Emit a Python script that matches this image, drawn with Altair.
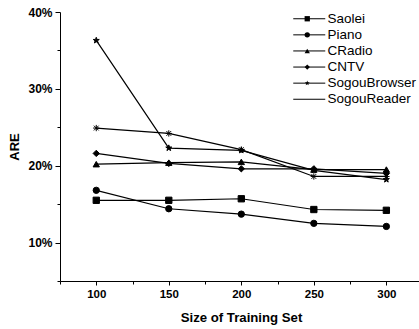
import altair as alt
import pandas as pd

sizes = [100, 150, 200, 250, 300]
series_names = ["Saolei", "Piano", "CRadio", "CNTV", "SogouBrowser", "SogouReader"]
saolei = [15.5, 15.5, 15.7, 14.3, 14.2]
piano = [16.8, 14.4, 13.7, 12.5, 12.1]
cradio = [20.2, 20.4, 20.5, 19.5, 19.5]
cntv = [21.6, 20.3, 19.6, 19.6, 19.0]
sogou_browser = [36.3, 22.3, 22.0, 19.4, 18.2]
sogou_reader = [24.9, 24.2, 22.1, 18.6, 18.6]

x_major = [100, 150, 200, 250, 300]
x_minor = [75, 125, 175, 225, 275]
y_major = [10, 20, 30, 40]
y_minor = [5, 15, 25, 35]

all_values = [saolei, piano, cradio, cntv, sogou_browser, sogou_reader]
rows = []
for name, vals in zip(series_names, all_values):
    for s, v in zip(sizes, vals):
        rows.append({"size": s, "are": v, "series": name, "name": name})
df = pd.DataFrame(rows)

STAR = ("M0,-1L0.235,-0.324L0.951,-0.309L0.380,0.124L0.588,0.809L0,0.4"
        "L-0.588,0.809L-0.380,0.124L-0.951,-0.309L-0.235,-0.324Z")
ASTER = "M-1,0L1,0M0,-1L0,1M-0.75,-0.75L0.75,0.75M-0.75,0.75L0.75,-0.75"
shapes = ["square", "circle", "triangle-up", "diamond", STAR, ASTER]
LEG_LINE = "M-4,0L4,0"

FONT = "Liberation Sans"
xscale = alt.Scale(domain=[75, 322.5], nice=False, zero=False)
yscale = alt.Scale(domain=[5, 40], nice=False, zero=False)

x_main = alt.X("size:Q", scale=xscale, axis=alt.Axis(
    values=x_major, format="d", title="Size of Training Set", orient="bottom",
    grid=False, tickSize=4, tickColor="black", domainColor="black",
    labelFont=FONT, labelFontSize=11.5, labelFontWeight="bold", labelColor="black",
    labelPadding=3, titleFont=FONT, titleFontSize=13.2, titleFontWeight="bold",
    titleColor="black", titlePadding=12, titleX=181, labelFlush=False))
y_main = alt.Y("are:Q", scale=yscale, axis=alt.Axis(
    values=y_major, labelExpr="datum.value + '%'", title="ARE", orient="left",
    grid=False, tickSize=5, tickColor="black", domainColor="black",
    labelFont=FONT, labelFontSize=12, labelFontWeight="bold", labelColor="black",
    labelPadding=3, titleFont=FONT, titleFontSize=13, titleFontWeight="bold",
    titleColor="black", titlePadding=6, labelFlush=False))

x_min = alt.X("size:Q", scale=xscale, axis=alt.Axis(
    values=x_minor, labels=False, domain=False, title=None, orient="bottom",
    grid=False, tickSize=3, tickColor="black"))
y_min = alt.Y("are:Q", scale=yscale, axis=alt.Axis(
    values=y_minor, labels=False, domain=False, title=None, orient="left",
    grid=False, tickSize=3, tickColor="black"))

lines = alt.Chart(df).mark_line(strokeWidth=1.2).encode(
    x=x_main, y=y_main,
    color=alt.Color("series:N", sort=series_names,
                    scale=alt.Scale(domain=series_names, range=["black"] * 6),
                    legend=alt.Legend(
                        title=None, orient="none", legendX=242.5, legendY=0,
                        symbolType=LEG_LINE, symbolSize=64, symbolStrokeWidth=1,
                        labelFont=FONT, labelFontSize=13.5, labelColor="black",
                        labelOffset=11.5, rowPadding=1.1, padding=0)),
    order="size:Q",
)

points = alt.Chart(df).mark_point(filled=True, size=40, color="black",
                                   stroke="black", strokeWidth=1, opacity=1).encode(
    x=x_min, y=y_min,
    shape=alt.Shape("name:N", sort=series_names,
                    scale=alt.Scale(domain=series_names, range=shapes),
                    legend=alt.Legend(
                        title=None, orient="none", legendX=240.5, legendY=0,
                        symbolSize=28, symbolFillColor="black",
                        symbolStrokeColor="black", symbolStrokeWidth=1,
                        labelFont=FONT, labelFontSize=13.5, labelExpr="' '",
                        labelOffset=4, rowPadding=1.1, padding=0)),
)

chart = alt.layer(lines, points).resolve_axis(
    x="independent", y="independent"
).resolve_legend(color="independent", shape="independent").properties(
    width=359, height=269,
    padding={"left": 60, "top": 12, "right": 0, "bottom": 48},
    autosize=alt.AutoSizeParams(type="none"),
    background="white",
).configure_view(stroke=None)

chart.save("out.html", embed_options={"renderer": "svg", "actions": False})
